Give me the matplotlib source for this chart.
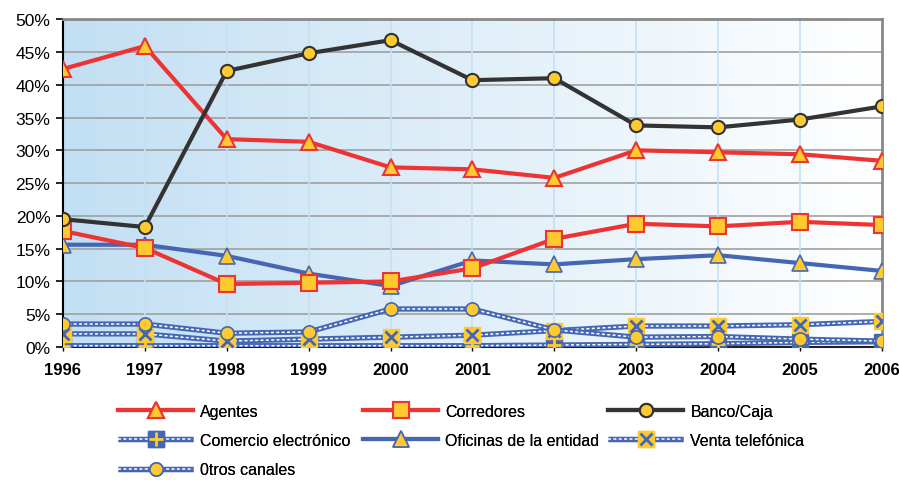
import numpy as np
import matplotlib
matplotlib.use("Agg")
import matplotlib.pyplot as plt

plt.rcParams['font.family'] = ['Liberation Sans', 'DejaVu Sans']

years = [1996, 1997, 1998, 1999, 2000, 2001, 2002, 2003, 2004, 2005, 2006]

# shares in %
agentes    = [42.4, 45.9, 31.7, 31.3, 27.4, 27.1, 25.8, 30.0, 29.7, 29.4, 28.4]
corredores = [17.7, 15.1, 9.6, 9.8, 10.0, 12.0, 16.5, 18.8, 18.4, 19.1, 18.6]
banco      = [19.5, 18.3, 42.1, 44.8, 46.8, 40.7, 41.0, 33.8, 33.5, 34.7, 36.7]
comercio   = [0.2, 0.2, 0.2, 0.2, 0.2, 0.2, 0.3, 0.4, 0.5, 0.7, 0.8]
oficinas   = [15.6, 15.6, 13.9, 11.2, 9.3, 13.2, 12.6, 13.4, 14.0, 12.8, 11.6]
venta      = [2.0, 2.0, 0.9, 1.2, 1.5, 1.8, 2.5, 3.2, 3.2, 3.4, 3.9]
otros      = [3.5, 3.5, 2.1, 2.3, 5.8, 5.8, 2.6, 1.5, 1.6, 1.2, 0.9]

red = "#EE3333"
black = "#333333"
blue = "#4466B3"
yellow = "#FFC930"

fig = plt.figure(figsize=(8.99, 4.81), dpi=100)
ax = fig.add_axes([0.070, 0.2765, 0.911, 0.6815])

# gradient background
grad = np.linspace(0, 1, 256).reshape(1, -1)
c0 = np.array([0.76, 0.875, 0.953])
c1 = np.array([1.0, 1.0, 1.0])
img = c0 + (c1 - c0) * grad[..., None]
ax.imshow(img, extent=[0, 1, 0, 1], transform=ax.transAxes, aspect='auto', zorder=0)

ax.set_xlim(1996, 2006)
ax.set_ylim(0, 0.5)
for y in np.arange(0.05, 0.5, 0.05):
    ax.axhline(y, color="#A0A0A0", lw=1.2, zorder=1)
for x in years[1:-1]:
    ax.axvline(x, color="#C4E0F6", lw=1.2, zorder=1)

def pct(v):
    return [a / 100 for a in v]

h_ag, = ax.plot(years, pct(agentes), color=red, lw=3, marker="^", ms=11,
                mfc=yellow, mec=red, mew=1.5, zorder=5)
h_co, = ax.plot(years, pct(corredores), color=red, lw=3, marker="s", ms=12,
                mfc=yellow, mec=red, mew=1.5, zorder=5)
h_ba, = ax.plot(years, pct(banco), color=black, lw=3, marker="o", ms=9.5,
                mfc=yellow, mec=black, mew=1.5, zorder=5)

def chain(vals, z):
    l1, = ax.plot(years, pct(vals), color=blue, lw=3.8, zorder=z, solid_capstyle='butt')
    l2, = ax.plot(years, pct(vals), color="white", lw=1.1, ls=(0, (2, 1.5)), zorder=z + 0.1)
    return l1, l2

# comercio electronico
l1, l2 = chain(comercio, 3)
m1, = ax.plot(years, pct(comercio), ls="none", marker="s", ms=11, mfc=blue, mec=blue, zorder=3.2)
m2, = ax.plot(years, pct(comercio), ls="none", marker="+", ms=10, mec=yellow, mew=2, zorder=3.3)
h_ce = (l1, l2, m1, m2)

h_of, = ax.plot(years, pct(oficinas), color=blue, lw=3, marker="^", ms=11,
                mfc=yellow, mec=blue, mew=1.2, zorder=4)

l1, l2 = chain(venta, 3.5)
m1, = ax.plot(years, pct(venta), ls="none", marker="s", ms=11, mfc=yellow, mec=yellow, zorder=3.7)
m2, = ax.plot(years, pct(venta), ls="none", marker="x", ms=9, mec=blue, mew=2, zorder=3.8)
h_ve = (l1, l2, m1, m2)

l1, l2 = chain(otros, 3.9)
m1, = ax.plot(years, pct(otros), ls="none", marker="o", ms=9.5, mfc=yellow, mec=blue, mew=1.2, zorder=4.2)
h_ot = (l1, l2, m1)

ax.set_yticks(np.arange(0, 0.51, 0.05))
ax.set_yticklabels([f"{int(round(v * 100))}%" for v in np.arange(0, 0.51, 0.05)], fontsize=12.5)
ax.set_xticks(years)
ax.set_xticklabels([str(y) for y in years], fontsize=12, fontweight="bold")
ax.tick_params(axis="y", direction="out", length=5, width=1.2, pad=4)
ax.tick_params(axis="x", direction="out", length=3, width=1, pad=8)

ax.spines["left"].set_color("black")
ax.spines["left"].set_linewidth(1.5)
ax.spines["bottom"].set_color("#222222")
ax.spines["bottom"].set_linewidth(1.5)
ax.spines["top"].set_color("#888888")
ax.spines["top"].set_linewidth(2)
ax.spines["right"].set_color("#888888")
ax.spines["right"].set_linewidth(2)

# legend, one column at a time so the rows read left to right
cols = [
    ([h_ag, h_ce, h_ot], ["Agentes", "Comercio electrónico", "0tros canales"], 118),
    ([h_co, h_of], ["Corredores", "Oficinas de la entidad"], 363),
    ([h_ba, h_ve], ["Banco/Caja", "Venta telefónica"], 608),
]
for hs, labs, x0 in cols:
    leg = fig.legend(hs, labs, loc="upper left", bbox_to_anchor=(x0 / 899, 1 - 405 / 481),
                     frameon=False, fontsize=11.5, handlelength=4.7,
                     handletextpad=0.45, labelspacing=0.88, borderaxespad=0,
                     borderpad=0)
    fig.add_artist(leg)

fig.savefig("out.png", dpi=100)
